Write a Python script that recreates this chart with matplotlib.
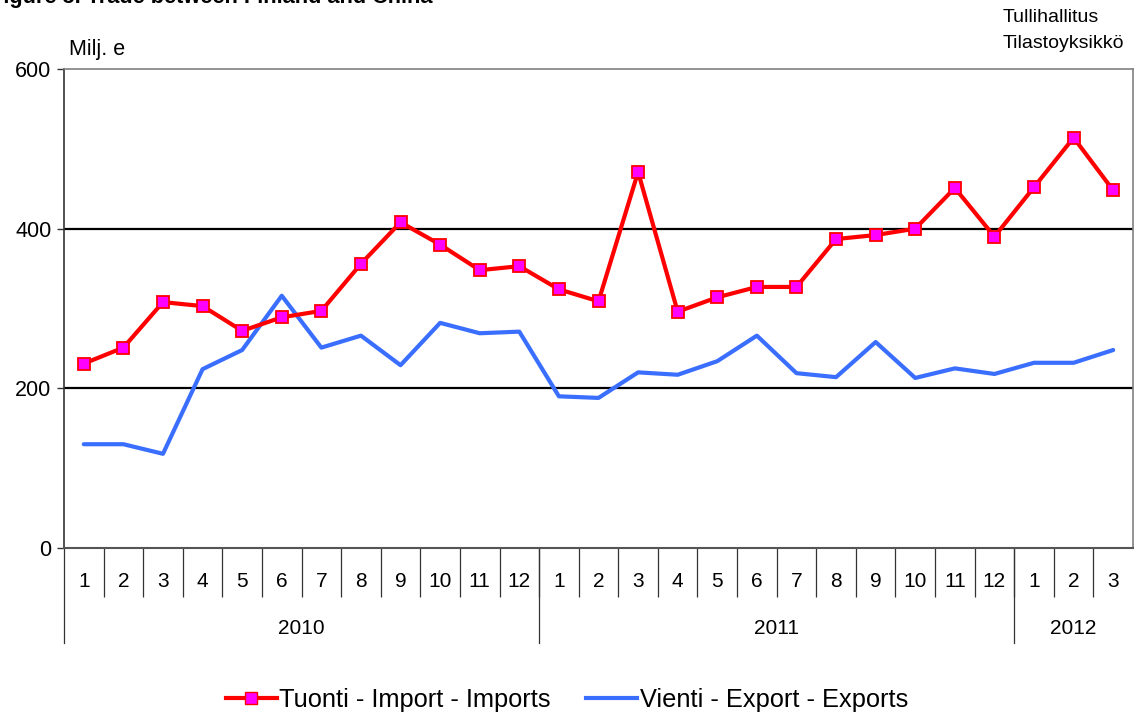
import matplotlib
matplotlib.use("Agg")
import matplotlib.pyplot as plt
from matplotlib.lines import Line2D

plt.rcParams['font.family'] = ['Liberation Sans', 'DejaVu Sans']

months = ['1', '2', '3', '4', '5', '6', '7', '8', '9', '10', '11', '12',
          '1', '2', '3', '4', '5', '6', '7', '8', '9', '10', '11', '12',
          '1', '2', '3']
years = ['2010', '2011', '2012']
year_lengths = [12, 12, 3]
imports = [231, 251, 308, 303, 272, 289, 297, 356, 408, 380, 348, 353,
           324, 309, 471, 296, 314, 327, 327, 387, 392, 400, 451, 390,
           452, 514, 448]
exports = [130, 130, 118, 224, 248, 316, 251, 266, 229, 282, 269, 271,
           190, 188, 220, 217, 234, 266, 219, 214, 258, 213, 225, 218,
           232, 232, 248]
yticks = [0, 200, 400, 600]

W, H = 1134, 715
fig = plt.figure(figsize=(W / 100, H / 100), dpi=100)
ax = fig.add_axes([64 / W, 1 - 548 / H, (1133 - 64) / W, (548 - 69) / H])

x = list(range(len(months)))
ax.plot(x, exports, color='#3A6EFF', lw=3, zorder=3, solid_capstyle='round')
ax.plot(x, imports, color='#FF0000', lw=3, marker='s', markersize=8.5,
        markerfacecolor='#FF00FF', markeredgecolor='#FF0000', markeredgewidth=1.3,
        zorder=4)

ax.set_ylim(0, 600)
ax.set_xlim(-0.5, len(months) - 0.5)
ax.set_yticks(yticks)
ax.set_yticklabels([str(v) for v in yticks], fontsize=15.5)
ax.tick_params(axis='y', direction='out', length=5, width=1, pad=4, color='#333333')
for v in yticks[1:-1]:
    ax.axhline(v, color='black', lw=1.6, zorder=1)

for s in ['top', 'right']:
    ax.spines[s].set_color('#808080')
    ax.spines[s].set_linewidth(1.2)
ax.spines['left'].set_color('#333333')
ax.spines['left'].set_linewidth(1.2)
ax.spines['bottom'].set_color('#555555')
ax.spines['bottom'].set_linewidth(1.5)

ax.set_xticks(x)
ax.set_xticklabels(months, fontsize=15)
ax.tick_params(axis='x', length=0, pad=17)
ax.set_xticks([i + 0.5 for i in range(len(months) - 1)], minor=True)
ax.tick_params(axis='x', which='minor', direction='out', length=35, width=0.9, color='#333333')

tr = ax.get_xaxis_transform()
start = -0.5
depth = -(643 - 548) / (548 - 69)
for yl, n in zip(years, year_lengths):
    ax.plot([start, start], [0, depth], transform=tr, color='#333333', lw=0.9, clip_on=False)
    ax.text(start + n / 2, -(629 - 548) / (548 - 69), yl, transform=tr,
            ha='center', va='center', fontsize=15)
    start += n

fig.text(69 / W, 1 - 49 / H, 'Milj. e', fontsize=15.5, ha='left', va='center')
fig.text(1003 / W, 1 - 17 / H, 'Tullihallitus', fontsize=14, ha='left', va='center')
fig.text(1003 / W, 1 - 44 / H, 'Tilastoyksikkö', fontsize=14, ha='left', va='center')
fig.text(-10 / W, 1 - 3 / H, 'Figure 5. Trade between Finland and China', fontsize=15.7,
         fontweight='bold', ha='left', va='baseline')

handles = [Line2D([], [], color='#FF0000', lw=3, marker='s', markersize=8,
                  markerfacecolor='#FF00FF', markeredgecolor='#FF0000'),
           Line2D([], [], color='#3A6EFF', lw=3)]
fig.legend(handles, ['Tuonti - Import - Imports', 'Vienti - Export - Exports'],
           loc='center', bbox_to_anchor=(0.5, 1 - 700 / H), ncol=2, frameon=False,
           fontsize=18.3, handlelength=2.0, handletextpad=0.1, columnspacing=1.4)

fig.savefig('out.png', dpi=100)
